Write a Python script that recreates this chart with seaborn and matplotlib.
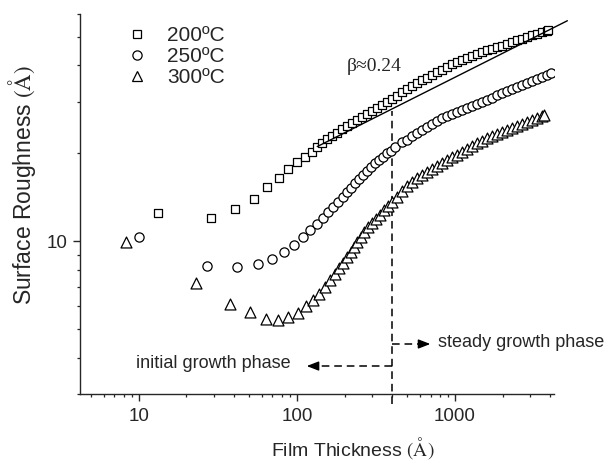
import numpy as np
import pandas as pd
import matplotlib
matplotlib.use("Agg")
import matplotlib.pyplot as plt
from matplotlib.lines import Line2D
from matplotlib.ticker import LogLocator, NullFormatter, FuncFormatter
import seaborn as sns

# film thickness (A) shared by the dense part of all three runs
thick_late = [144.6, 155.5, 167.3, 179.9, 193.5, 208.2, 223.9, 240.8, 259.0, 278.6,
              299.7, 322.3, 346.7, 372.9, 401.1, 431.4, 464.0, 499.1, 536.8, 577.4,
              621.0, 668.0, 718.5, 772.7, 831.2, 894.0, 961.4, 1034, 1112, 1196,
              1287, 1384, 1489, 1601, 1722, 1852, 1993, 2143, 2305, 2480,
              2666, 2868, 3085, 3318, 3569, 3839]

# 200 C
t200_x = [13.3, 28.7, 40.7, 53.7, 64.6, 76.6, 88.1, 99.6, 111.9, 124.4, 134.5] + thick_late + [3895]
t200_y = [12.53, 12.02, 12.95, 13.93, 15.31, 16.43, 17.66, 18.64, 19.49, 20.27, 21.09,
          21.71, 22.36, 22.98, 23.55, 24.15, 24.77, 25.36, 25.97, 26.59, 27.27,
          27.97, 28.68, 29.39, 30.09, 30.81, 31.55, 32.38, 33.24, 34.12, 34.85,
          35.55, 36.26, 37.0, 37.86, 38.67, 39.47, 40.3, 41.1, 41.75, 42.42,
          43.09, 43.74, 44.4, 45.11, 45.71, 46.26, 46.81, 47.36, 48.04, 48.73,
          49.42, 50.09, 50.77, 51.45, 52.06, 52.6, 52.72]

# 250 C
t250_x = [9.96, 26.82, 41.72, 56.39, 69.98, 83.37, 96.14, 108.7, 120.9, 133.3,
          145.4, 157.1, 169.7, 181.8, 194.7, 207.3, 219.8, 232.9, 246.9, 261.7,
          276.1, 292.8, 310.4, 328.9, 348.8, 369.7, 391.7, 417.2] + thick_late[16:] + [4051]
t250_y = [10.32, 8.23, 8.18, 8.33, 8.68, 9.19, 9.75, 10.32, 10.93, 11.46,
          12.05, 12.60, 13.14, 13.67, 14.22, 14.79, 15.26, 15.80, 16.34, 16.87,
          17.41, 18.01, 18.50, 18.98, 19.49, 20.02, 20.43, 21.09,
          21.79, 22.30, 22.89, 23.49, 24.12, 24.71, 25.30, 25.91, 26.44, 26.89,
          27.33, 27.77, 28.21, 28.66, 29.09, 29.58, 30.07, 30.57, 31.06, 31.57,
          32.08, 32.59, 33.13, 33.66, 34.20, 34.74, 35.30, 35.86, 36.48, 37.20, 37.71]

# 300 C
t300_x = [8.27, 22.96, 37.51, 50.43, 63.67, 76.13, 88.07, 101.0, 114.0, 125.7,
          138.4, 150.4, 161.8, 174.0, 185.3, 196.3, 206.3, 218.8, 229.6, 240.8,
          253.0, 265.5, 280.2, 297.1, 316.2, 335.2, 356.8, 378.4, 401.1, 427.6] + thick_late[16:45] + [3659]
t300_y = [9.97, 7.18, 6.09, 5.71, 5.42, 5.38, 5.52, 5.70, 6.00, 6.30,
          6.60, 6.99, 7.37, 7.73, 8.08, 8.45, 8.86, 9.21, 9.58, 9.97,
          10.37, 10.79, 11.17, 11.52, 11.92, 12.31, 12.80, 13.21, 13.67, 14.15,
          14.87, 15.51, 15.96, 16.43, 16.91, 17.33, 17.74, 18.16, 18.57, 18.96,
          19.38, 19.80, 20.25, 20.72, 21.18, 21.62, 22.05, 22.51, 22.94, 23.32,
          23.71, 24.09, 24.49, 24.89, 25.28, 25.66, 26.05, 26.44, 26.89, 27.07]

labels = ['200ºC', '250ºC', '300ºC']
markers = ['s', 'o', '^']
msizes = [40, 44, 62]

# power-law fit (beta ~ 0.24) and phase boundary
fit_x = [134.4, 5140]
fit_y = [21.1, 56.9]
boundary = 400

sns.set_style('ticks')
plt.rcParams['font.family'] = ['Liberation Sans', 'DejaVu Sans']
plt.rcParams['mathtext.fontset'] = 'stix'

series = [(t200_x, t200_y), (t250_x, t250_y), (t300_x, t300_y)]
df = pd.concat([pd.DataFrame({'thickness': x, 'roughness': y, 'temp': lab})
                for (x, y), lab in zip(series, labels)], ignore_index=True)

fig = plt.figure(figsize=(6.08, 4.61), dpi=100)
ax = fig.add_axes([0.1316, 0.1453, 0.7801, 0.8243])

for lab, mk, sz in zip(labels, markers, msizes):
    sns.scatterplot(data=df[df['temp'] == lab], x='thickness', y='roughness',
                    marker=mk, s=sz, color='white', edgecolor='black',
                    linewidth=0.9, legend=False, ax=ax, zorder=3)

ax.set_xscale('log')
ax.set_yscale('log')
ax.set_xlim(4.24, 4250)
ax.set_ylim(3, 60)

# fit line runs past the right edge like in the original
ax.plot(fit_x, fit_y, color='black', lw=1.0, clip_on=False, zorder=4)
ax.plot([boundary, boundary], [2.77, 28], color='black', lw=1.1,
        dashes=(5, 3.2), clip_on=False, zorder=2)

# phase arrows
ax.plot([boundary, 133.5], [3.74, 3.74], color='black', lw=1.1, dashes=(5, 3.2))
ax.annotate('', xy=(115.3, 3.74), xytext=(133.5, 3.74),
            arrowprops=dict(arrowstyle='-|>,head_length=0.72,head_width=0.28',
                            color='black', lw=1, shrinkA=0, shrinkB=0, mutation_scale=10))
ax.plot([boundary, 603], [4.45, 4.45], color='black', lw=1.1, dashes=(5, 3.2))
ax.annotate('', xy=(698, 4.45), xytext=(603, 4.45),
            arrowprops=dict(arrowstyle='-|>,head_length=0.72,head_width=0.28',
                            color='black', lw=1, shrinkA=0, shrinkB=0, mutation_scale=10))
ax.text(91, 3.82, 'initial growth phase', ha='right', va='center', fontsize=13)
ax.text(777, 4.49, 'steady growth phase', ha='left', va='center', fontsize=13)
ax.text(206, 39.6, 'β≈0.24', ha='left', va='center', fontsize=14,
        family=['Liberation Serif', 'DejaVu Serif'])

# axes cosmetics
sns.despine(ax=ax)
for sp in ['left', 'bottom']:
    ax.spines[sp].set_linewidth(1.0)
ax.xaxis.set_major_locator(LogLocator(base=10))
ax.xaxis.set_minor_locator(LogLocator(base=10, subs=np.arange(2, 10), numticks=20))
ax.yaxis.set_major_locator(LogLocator(base=10))
ax.yaxis.set_minor_locator(LogLocator(base=10, subs=np.arange(2, 10), numticks=20))
fmt = FuncFormatter(lambda v, p: '%g' % v)
ax.xaxis.set_major_formatter(fmt)
ax.yaxis.set_major_formatter(fmt)
ax.xaxis.set_minor_formatter(NullFormatter())
ax.yaxis.set_minor_formatter(NullFormatter())
ax.tick_params(which='major', direction='out', length=5, width=1.0, labelsize=13.5)
ax.tick_params(which='minor', direction='out', length=2.5, width=0.9)
ax.tick_params(axis='x', which='major', pad=5)
ax.tick_params(axis='y', which='major', pad=4)

ax.set_xlabel('Film Thickness $(\\mathrm{Å})$', fontsize=14)
ax.set_ylabel('Surface Roughness $(\\mathrm{Å})$', fontsize=16.5)
ax.xaxis.set_label_coords(0.5745, -0.108)
ax.yaxis.set_label_coords(-0.089, 0.55)

handles = [Line2D([], [], ls='none', marker=mk, ms=np.sqrt(sz), mfc='white',
                  mec='black', mew=0.9) for mk, sz in zip(markers, msizes)]
ax.legend(handles, labels, loc='upper left', bbox_to_anchor=(0.099, 0.969),
          frameon=False, fontsize=15, handlelength=1.0, handletextpad=0.91,
          labelspacing=0.1, borderpad=0, borderaxespad=0)

fig.savefig('out.png', dpi=100)
